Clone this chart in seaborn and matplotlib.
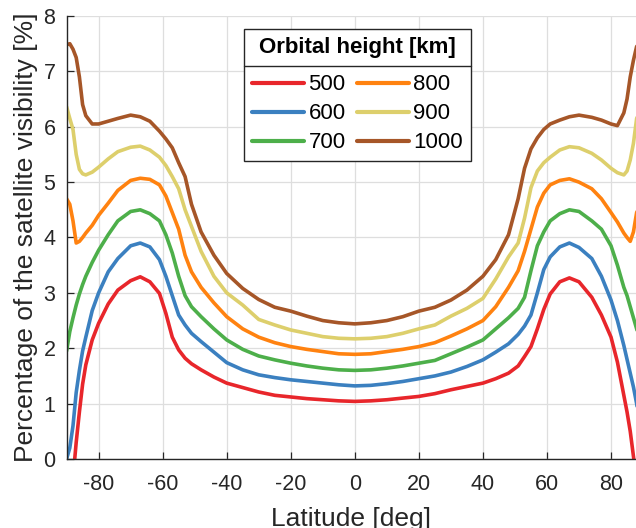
import numpy as np
import pandas as pd
import matplotlib
matplotlib.use("Agg")
import matplotlib.pyplot as plt
from matplotlib.lines import Line2D
import seaborn as sns

sns.set_theme(style="whitegrid")
plt.rcParams["font.family"] = ["Liberation Sans", "DejaVu Sans"]
plt.rcParams["axes.unicode_minus"] = False

# ---------------- data ----------------
latitude = [-90, -89, -88, -87, -86, -85, -84, -82, -80, -77, -74, -70, -67, -64, -61,
            -59, -57, -55, -53, -51, -48, -44, -40, -35, -30, -25, -20, -15, -10, -5,
            0,
            5, 10, 15, 20, 25, 30, 35, 40, 44, 48, 51, 53, 55, 57, 59,
            61, 64, 67, 70, 74, 77, 80, 82, 84, 85, 86, 87, 88, 89, 90]

vis_500 = [-1.6, -1.0, -0.35, 0.3, 0.85, 1.35, 1.7, 2.15, 2.45, 2.8, 3.05, 3.22, 3.29, 3.2, 2.99,
           2.63, 2.2, 1.97, 1.82, 1.72, 1.61, 1.48, 1.37, 1.29, 1.21, 1.15, 1.12, 1.09, 1.07, 1.05,
           1.04,
           1.05, 1.07, 1.1, 1.13, 1.18, 1.25, 1.31, 1.37, 1.45, 1.55, 1.68, 1.85, 2.03, 2.35, 2.7,
           2.98, 3.2, 3.27, 3.2, 2.92, 2.6, 2.2, 1.75, 1.15, 0.85, 0.5, 0.05, -0.4, -1.0, -1.6]

vis_600 = [0.0, 0.2, 0.6, 1.2, 1.6, 1.95, 2.2, 2.68, 3.0, 3.38, 3.62, 3.85, 3.9, 3.83, 3.6,
           3.3, 2.95, 2.6, 2.42, 2.27, 2.12, 1.93, 1.74, 1.61, 1.52, 1.47, 1.43, 1.4, 1.37, 1.34,
           1.32,
           1.33, 1.36, 1.4, 1.45, 1.5, 1.57, 1.67, 1.79, 1.93, 2.08, 2.25, 2.4, 2.6, 3.0, 3.42,
           3.65, 3.83, 3.9, 3.82, 3.62, 3.3, 2.87, 2.5, 2.05, 1.8, 1.55, 1.3, 1.0, 0.6, 0.1]

vis_700 = [1.95, 2.3, 2.55, 2.78, 2.98, 3.15, 3.3, 3.55, 3.77, 4.05, 4.3, 4.47, 4.5, 4.43, 4.3,
           4.05, 3.72, 3.3, 2.95, 2.75, 2.57, 2.35, 2.15, 1.98, 1.86, 1.79, 1.73, 1.68, 1.64, 1.61,
           1.6,
           1.61, 1.64, 1.68, 1.73, 1.78, 1.9, 2.02, 2.15, 2.35, 2.55, 2.72, 2.92, 3.4, 3.85, 4.1,
           4.3, 4.43, 4.5, 4.47, 4.3, 4.15, 3.85, 3.5, 3.1, 2.95, 2.75, 2.55, 2.35, 2.15, 1.95]

vis_800 = [4.7, 4.6, 4.3, 3.9, 3.93, 4.0, 4.08, 4.22, 4.4, 4.62, 4.85, 5.03, 5.07, 5.05, 4.95,
           4.75, 4.45, 4.15, 3.68, 3.38, 3.1, 2.82, 2.57, 2.35, 2.2, 2.1, 2.03, 1.98, 1.94, 1.9,
           1.89,
           1.9, 1.94, 1.98, 2.03, 2.1, 2.22, 2.35, 2.5, 2.75, 3.1, 3.4, 3.75, 4.15, 4.55, 4.8,
           4.95, 5.03, 5.06, 5.0, 4.88, 4.7, 4.45, 4.28, 4.08, 4.0, 3.93, 4.1, 4.45, 4.6, 4.7]

vis_900 = [6.36, 6.15, 5.95, 5.5, 5.23, 5.15, 5.13, 5.18, 5.27, 5.42, 5.55, 5.63, 5.65, 5.58, 5.45,
           5.3, 5.1, 4.88, 4.5, 4.2, 3.75, 3.3, 3.0, 2.78, 2.52, 2.42, 2.33, 2.27, 2.21, 2.18,
           2.17,
           2.18, 2.21, 2.27, 2.35, 2.42, 2.58, 2.72, 2.9, 3.25, 3.65, 3.9, 4.35, 4.9, 5.2, 5.35,
           5.45, 5.58, 5.64, 5.62, 5.52, 5.4, 5.25, 5.17, 5.13, 5.2, 5.4, 5.7, 6.15, 6.3, 6.36]

vis_1000 = [7.48, 7.5, 7.4, 7.25, 6.9, 6.4, 6.2, 6.05, 6.05, 6.1, 6.15, 6.21, 6.18, 6.1, 5.92,
            5.78, 5.62, 5.35, 5.1, 4.6, 4.1, 3.68, 3.35, 3.08, 2.88, 2.74, 2.67, 2.58, 2.5, 2.46,
            2.44,
            2.46, 2.5, 2.57, 2.67, 2.74, 2.87, 3.05, 3.3, 3.6, 4.05, 4.7, 5.25, 5.6, 5.8, 5.95,
            6.05, 6.12, 6.18, 6.21, 6.17, 6.12, 6.05, 6.02, 6.25, 6.5, 6.9, 7.2, 7.45, 7.5, 7.5]

heights = ["500", "600", "700", "800", "900", "1000"]
series = [vis_500, vis_600, vis_700, vis_800, vis_900, vis_1000]
colors = ["#E8262B", "#3B80C0", "#4DAF4A", "#FF8210", "#DDCF6C", "#A65628"]

x_ticks = [-80, -60, -40, -20, 0, 20, 40, 60, 80]
y_ticks = [0, 1, 2, 3, 4, 5, 6, 7, 8]

df = pd.concat(
    [pd.DataFrame({"lat": latitude, "vis": s, "height": h}) for h, s in zip(heights, series)],
    ignore_index=True,
)

# ---------------- figure ----------------
fig = plt.figure(figsize=(6.36, 5.28), dpi=100)
ax = fig.add_axes([0.1047, 0.1307, 0.8953, 0.8390])

sns.lineplot(data=df, x="lat", y="vis", hue="height", hue_order=heights,
             palette=colors, linewidth=2.6, estimator=None, sort=False, ax=ax)

ax.set_xlim(-90, 87.8)
ax.set_ylim(0, 8)
ax.set_xticks(x_ticks)
ax.set_yticks(y_ticks)
ax.set_facecolor("white")
ax.grid(True, color="#dedede", linewidth=0.9)
for s in ["top", "right"]:
    ax.spines[s].set_visible(False)
for s in ["left", "bottom"]:
    ax.spines[s].set_color("#262626")
    ax.spines[s].set_linewidth(1.0)
ax.tick_params(axis="both", direction="in", length=5, width=0.9, colors="#262626",
               labelsize=15.5, left=True, bottom=True)
ax.tick_params(axis="x", pad=10.5)
ax.tick_params(axis="y", pad=8)
ax.set_xlabel("Latitude [deg]", fontsize=19, color="#262626", labelpad=9)
ax.set_ylabel("Percentage of the satellite visibility [%]", fontsize=19,
              color="#262626", labelpad=4)

handles, labels = ax.get_legend_handles_labels()
for h in handles:
    h.set_linewidth(3.0)
leg = ax.legend(handles, labels, title="Orbital height [km]", ncol=2,
                loc="upper left", bbox_to_anchor=(0.3115, 0.9707), borderaxespad=0,
                frameon=True, fancybox=False, edgecolor="#262626", framealpha=1,
                fontsize=16, title_fontproperties={"weight": "bold", "size": 16},
                handlelength=2.35, handletextpad=0.2, columnspacing=0.5,
                labelspacing=0.36, borderpad=0.35)
leg._legend_box.sep = 12
leg.get_frame().set_linewidth(1.0)
leg.get_title().set_color("black")
for t in leg.get_texts():
    t.set_color("black")

# separator line under the legend title
fig.canvas.draw()
r = fig.canvas.get_renderer()
fb = leg.get_frame().get_window_extent(r)
tb = leg.get_title().get_window_extent(r)
hb = leg._legend_handle_box.get_window_extent(r)
ysep = (tb.y0 + hb.y1) / 2.0
inv = fig.transFigure.inverted()
(x0f, yf), (x1f, _) = inv.transform([(fb.x0, ysep), (fb.x1, ysep)])
fig.add_artist(Line2D([x0f, x1f], [yf, yf], transform=fig.transFigure,
                      color="#262626", linewidth=1.0, zorder=10))

fig.savefig("out.png", dpi=100)
